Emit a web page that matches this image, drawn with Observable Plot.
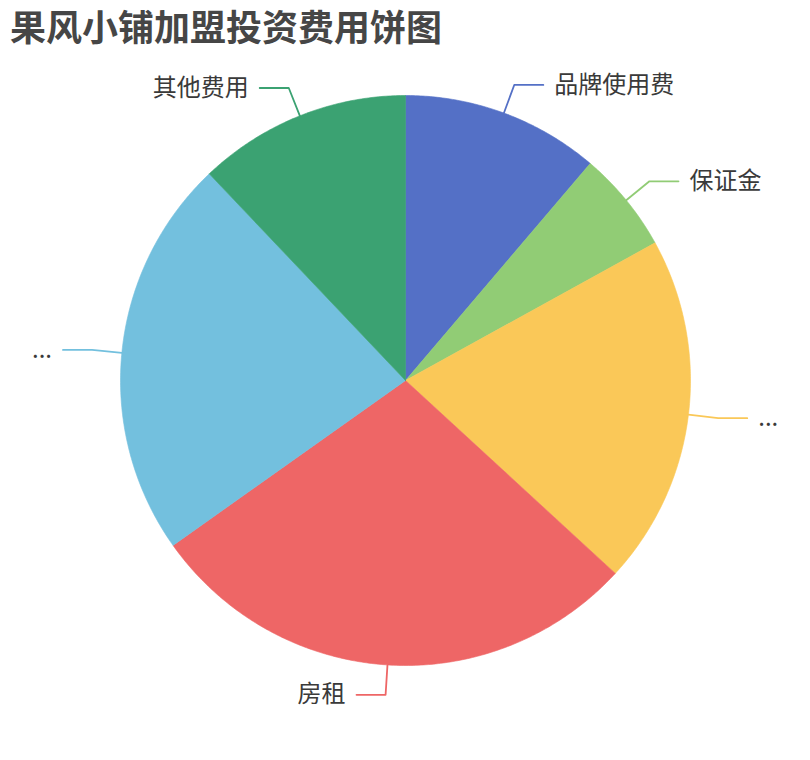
<!DOCTYPE html>
<html>
<head>
<meta charset="utf-8">
<script src="https://cdn.jsdelivr.net/npm/d3@7"></script>
<script src="https://cdn.jsdelivr.net/npm/@observablehq/plot@0.6"></script>
<style>
  body { margin: 0; background: #fff; font-family: "Noto Sans CJK SC", "Noto Sans", sans-serif; }
  #title { height: 50px; line-height: 50px; padding-left: 10px; font-size: 36px; font-weight: bold; color: #464646; white-space: nowrap; }
  #chart svg { display: block; }
</style>
</head>
<body>
<div id="title">果风小铺加盟投资费用饼图</div>
<div id="chart"></div>
<script>
// Data
const labels = ["品牌使用费", "保证金", "...", "房租", "...", "其他费用"];
const values = [3.9, 2.0, 6.9, 9.85, 7.9, 4.2];
const colors = ["#5470c6", "#91cc75", "#fac858", "#ee6666", "#73c0de", "#3ba272"];

const arcs = d3.pie().sort(null).value(d => d)(values);

// slice polygons (center + arc samples) in unit coordinates
const slicePts = [];
arcs.forEach((a, i) => {
  slicePts.push({i, x: 0, y: 0, color: colors[i]});
  const n = Math.max(2, Math.ceil((a.endAngle - a.startAngle) / (Math.PI / 360)));
  for (let k = 0; k <= n; k++) {
    const t = a.startAngle + (a.endAngle - a.startAngle) * k / n;
    slicePts.push({i, x: Math.sin(t), y: Math.cos(t), color: colors[i]});
  }
  slicePts.push({i, x: 0, y: 0, color: colors[i]});
});

// label lines
const linePts = [];
const labelPts = [];
arcs.forEach((a, i) => {
  const m = (a.startAngle + a.endAngle) / 2;
  const sx = Math.sin(m), sy = Math.cos(m);
  const side = sx >= 0 ? 1 : -1;
  const r2 = 1.105, h = 0.102;
  linePts.push({i, x: sx, y: sy, color: colors[i]});
  linePts.push({i, x: sx * r2, y: sy * r2, color: colors[i]});
  linePts.push({i, x: sx * r2 + side * h, y: sy * r2, color: colors[i]});
  labelPts.push({x: sx * r2 + side * h, y: sy * r2, side, text: labels[i]});
});

const chart = Plot.plot({
  width: 810,
  height: 710,
  margin: 0,
  x: {domain: [-1, 1], range: [120, 690], axis: null},
  y: {domain: [-1, 1], range: [615, 45], axis: null},
  style: {fontFamily: '"Noto Sans CJK SC", "Noto Sans", sans-serif'},
  marks: [
    Plot.line(slicePts, {x: "x", y: "y", z: "i", fill: "color", stroke: "color", strokeWidth: 0.6, curve: "linear"}),
    Plot.line(linePts, {x: "x", y: "y", z: "i", stroke: "color", strokeWidth: 1.8, curve: "linear"}),
    Plot.text(labelPts.filter(d => d.side > 0), {x: "x", y: "y", text: "text", textAnchor: "start", dx: 11, fontSize: 24, fill: "#3a3a3a"}),
    Plot.text(labelPts.filter(d => d.side < 0), {x: "x", y: "y", text: "text", textAnchor: "end", dx: -11, fontSize: 24, fill: "#3a3a3a"})
  ]
});
document.getElementById("chart").appendChild(chart);
</script>
</body>
</html>
